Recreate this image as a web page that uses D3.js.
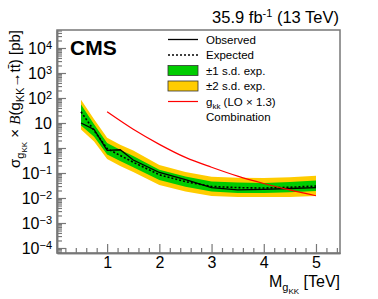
<!DOCTYPE html>
<html>
<head>
<meta charset="utf-8">
<script src="https://cdn.jsdelivr.net/npm/d3@7"></script>
<style>
  body { margin: 0; background: #fff; }
  text { font-family: "Liberation Sans", Arial, sans-serif; fill: #000; }
</style>
</head>
<body>
<div id="chart"></div>
<script>
// limits vs gKK mass (TeV), values in pb
const mass     = [0.5, 0.75, 1.0, 1.25, 1.5, 2.0, 2.5, 3.0, 3.5, 4.0, 4.5, 5.0];
const observed = [10, 5.5, 0.8, 0.85, 0.33, 0.105, 0.054, 0.026, 0.021, 0.022, 0.024, 0.026];
const expected = [28, 5.0, 0.95, 0.5, 0.27, 0.085, 0.045, 0.029, 0.026, 0.025, 0.027, 0.030];
const sigma1Lo = [8, 2.8, 0.55, 0.3, 0.17, 0.052, 0.028, 0.018, 0.016, 0.016, 0.017, 0.019];
const sigma1Hi = [55, 9, 1.6, 0.85, 0.48, 0.135, 0.072, 0.046, 0.042, 0.040, 0.044, 0.050];
const sigma2Lo = [5.5, 1.8, 0.36, 0.19, 0.11, 0.033, 0.018, 0.012, 0.011, 0.011, 0.011, 0.012];
const sigma2Hi = [85, 14, 2.6, 1.35, 0.8, 0.21, 0.11, 0.07, 0.065, 0.063, 0.068, 0.078];

// theory curve g_kk (LO x 1.3)
const theoryMass = [1.0, 1.5, 2.0, 2.5, 3.0, 3.5, 4.0, 4.5, 5.0];
const theoryXsec = [28, 5.6, 1.4, 0.42, 0.17, 0.075, 0.038, 0.021, 0.0123];

const xTicks = [1, 2, 3, 4, 5];
const yExponents = [-4, -3, -2, -1, 0, 1, 2, 3, 4];

const width = 378;
const height = 299;
const margin = {left: 57, right: 38, top: 30, bottom: 46};

const svg = d3.select("#chart")
    .append("svg")
    .attr("width", width)
    .attr("height", height);

const x = d3.scaleLinear()
    .domain([0.04, 5.46])
    .range([margin.left, width - margin.right]);

const y = d3.scaleLog()
    .domain([Math.pow(10, -4.2), Math.pow(10, 4.72)])
    .range([height - margin.bottom, margin.top]);

const axisColor = "#777";

// bands
const bandData = mass.map((m, i) => ({m, lo1: sigma1Lo[i], hi1: sigma1Hi[i], lo2: sigma2Lo[i], hi2: sigma2Hi[i]}));

svg.append("path")
    .datum(bandData)
    .attr("fill", "#ffcc00")
    .attr("d", d3.area().x(d => x(d.m)).y0(d => y(d.lo2)).y1(d => y(d.hi2)));

svg.append("path")
    .datum(bandData)
    .attr("fill", "#00cc00")
    .attr("d", d3.area().x(d => x(d.m)).y0(d => y(d.lo1)).y1(d => y(d.hi1)));

// expected (dotted)
svg.append("path")
    .datum(mass.map((m, i) => [m, expected[i]]))
    .attr("fill", "none")
    .attr("stroke", "#000")
    .attr("stroke-width", 1.6)
    .attr("stroke-dasharray", "2,2")
    .attr("d", d3.line().x(d => x(d[0])).y(d => y(d[1])));

// observed
svg.append("path")
    .datum(mass.map((m, i) => [m, observed[i]]))
    .attr("fill", "none")
    .attr("stroke", "#000")
    .attr("stroke-width", 1.3)
    .attr("d", d3.line().x(d => x(d[0])).y(d => y(d[1])));

// theory
svg.append("path")
    .datum(theoryMass.map((m, i) => [m, theoryXsec[i]]))
    .attr("fill", "none")
    .attr("stroke", "#ff0000")
    .attr("stroke-width", 1.2)
    .attr("d", d3.line().curve(d3.curveMonotoneX).x(d => x(d[0])).y(d => y(d[1])));

// frame
svg.append("rect")
    .attr("x", margin.left)
    .attr("y", margin.top)
    .attr("width", width - margin.left - margin.right)
    .attr("height", height - margin.top - margin.bottom)
    .attr("fill", "none")
    .attr("stroke", axisColor)
    .attr("stroke-width", 1.5);

// y axis: minor ticks
const yMinor = [];
for (let e = -5; e <= 4; e++) {
    for (let k = 2; k <= 9; k++) {
        const v = k * Math.pow(10, e);
        if (v > y.domain()[0] && v < y.domain()[1]) yMinor.push(v);
    }
}

const yMinorAxis = svg.append("g")
    .attr("transform", `translate(${margin.left},0)`)
    .call(d3.axisLeft(y).tickValues(yMinor).tickSize(-5).tickSizeOuter(0).tickFormat(""));

const yMajorAxis = svg.append("g")
    .attr("transform", `translate(${margin.left},0)`)
    .call(d3.axisLeft(y).tickValues(yExponents.map(e => Math.pow(10, e)))
        .tickSize(-9).tickSizeOuter(0).tickPadding(5).tickFormat(""));

[yMinorAxis, yMajorAxis].forEach(g => {
    g.selectAll("line").attr("stroke", axisColor).attr("stroke-width", 1.2);
    g.select(".domain").attr("stroke", axisColor).attr("stroke-width", 1.5);
});

yMajorAxis.selectAll(".tick text").each(function(d) {
    const e = Math.round(Math.log10(d));
    const t = d3.select(this)
        .attr("font-size", 16)
        .attr("fill", "#000")
        .attr("dy", "0.35em");
    if (e === 0) t.text("1");
    else if (e === 1) t.text("10");
    else {
        t.append("tspan").text("10");
        t.append("tspan").attr("dy", "-0.45em").attr("font-size", 11)
            .text(e < 0 ? "\u2212" + (-e) : String(e));
    }
});

// x axis
const xMinor = d3.range(0.2, 5.45, 0.2).filter(v => Math.abs(v - Math.round(v)) > 1e-6);

const xMinorAxis = svg.append("g")
    .attr("transform", `translate(0,${height - margin.bottom})`)
    .call(d3.axisBottom(x).tickValues(xMinor).tickSize(-5).tickSizeOuter(0).tickFormat(""));

const xMajorAxis = svg.append("g")
    .attr("transform", `translate(0,${height - margin.bottom})`)
    .call(d3.axisBottom(x).tickValues(xTicks).tickSize(-9).tickSizeOuter(0).tickPadding(4).tickFormat(d3.format("d")));

[xMinorAxis, xMajorAxis].forEach(g => {
    g.selectAll("line").attr("stroke", axisColor).attr("stroke-width", 1.2);
    g.select(".domain").attr("stroke", axisColor).attr("stroke-width", 1.5);
});
xMajorAxis.selectAll(".tick text")
    .attr("font-size", 16)
    .attr("fill", "#000")
    .attr("font-family", "Liberation Sans, Arial, sans-serif");

// x label
const xl = svg.append("text")
    .attr("x", width - margin.right)
    .attr("y", 287)
    .attr("text-anchor", "end")
    .attr("font-size", 16);
xl.append("tspan").text("M");
xl.append("tspan").attr("font-size", 11).attr("dy", 4).text("g");
xl.append("tspan").attr("font-size", 8).attr("dy", 3).text("KK");
xl.append("tspan").attr("dy", -7).text(" [TeV]");

// y label
const yl = svg.append("text")
    .attr("transform", `translate(20,${margin.top}) rotate(-90)`)
    .attr("text-anchor", "end")
    .attr("font-size", 15);
yl.append("tspan").text("\u03c3");
yl.append("tspan").attr("font-size", 11).attr("dy", 4).text("g");
yl.append("tspan").attr("font-size", 8).attr("dy", 3).text("KK");
yl.append("tspan").attr("dy", -7).text(" \u00d7 ");
yl.append("tspan").attr("font-style", "italic").attr("font-family", "Liberation Serif, serif").text("B");
yl.append("tspan").text("(g");
yl.append("tspan").attr("font-size", 11).attr("dy", 4).text("KK");
yl.append("tspan").attr("dy", -4).text("\u2192tt\u0304) [pb]");

// CMS label
svg.append("text")
    .attr("x", 70)
    .attr("y", 55)
    .attr("font-size", 21)
    .attr("font-weight", "bold")
    .text("CMS");

// lumi label
const lumi = svg.append("text")
    .attr("x", 339)
    .attr("y", 23)
    .attr("text-anchor", "end")
    .attr("font-size", 16.5);
lumi.append("tspan").text("35.9 fb");
lumi.append("tspan").attr("font-size", 11).attr("dy", -6).text("-1");
lumi.append("tspan").attr("dy", 6).text(" (13 TeV)");

// legend
const legX = 168, legW = 30, legTextX = 206;
const legRows = [39.5, 55, 70.5, 86, 101.5, 117];
const legFont = 11.5;

svg.append("line").attr("x1", legX).attr("x2", legX + legW).attr("y1", legRows[0]).attr("y2", legRows[0])
    .attr("stroke", "#000").attr("stroke-width", 1.3);
svg.append("line").attr("x1", legX).attr("x2", legX + legW).attr("y1", legRows[1]).attr("y2", legRows[1])
    .attr("stroke", "#000").attr("stroke-width", 1.6).attr("stroke-dasharray", "2,2");
svg.append("rect").attr("x", legX).attr("y", legRows[2] - 5).attr("width", legW).attr("height", 10)
    .attr("fill", "#00cc00").attr("stroke", "#333").attr("stroke-width", 0.8);
svg.append("rect").attr("x", legX).attr("y", legRows[3] - 5).attr("width", legW).attr("height", 10)
    .attr("fill", "#ffcc00").attr("stroke", "#333").attr("stroke-width", 0.8);
svg.append("line").attr("x1", legX).attr("x2", legX + legW).attr("y1", legRows[4]).attr("y2", legRows[4])
    .attr("stroke", "#ff0000").attr("stroke-width", 1.2);

const legLabels = ["Observed", "Expected", "\u00b11 s.d. exp.", "\u00b12 s.d. exp."];
legLabels.forEach((lab, i) => {
    svg.append("text")
        .attr("x", legTextX)
        .attr("y", legRows[i])
        .attr("dy", "0.35em")
        .attr("font-size", legFont)
        .text(lab);
});

const gl = svg.append("text")
    .attr("x", legTextX)
    .attr("y", legRows[4])
    .attr("dy", "0.35em")
    .attr("font-size", legFont);
gl.append("tspan").text("g");
gl.append("tspan").attr("font-size", 8).attr("dy", 3).text("kk");
gl.append("tspan").attr("dy", -3).text(" (LO \u00d7 1.3)");

svg.append("text")
    .attr("x", legTextX)
    .attr("y", legRows[5])
    .attr("dy", "0.35em")
    .attr("font-size", legFont)
    .text("Combination");
</script>
</body>
</html>
